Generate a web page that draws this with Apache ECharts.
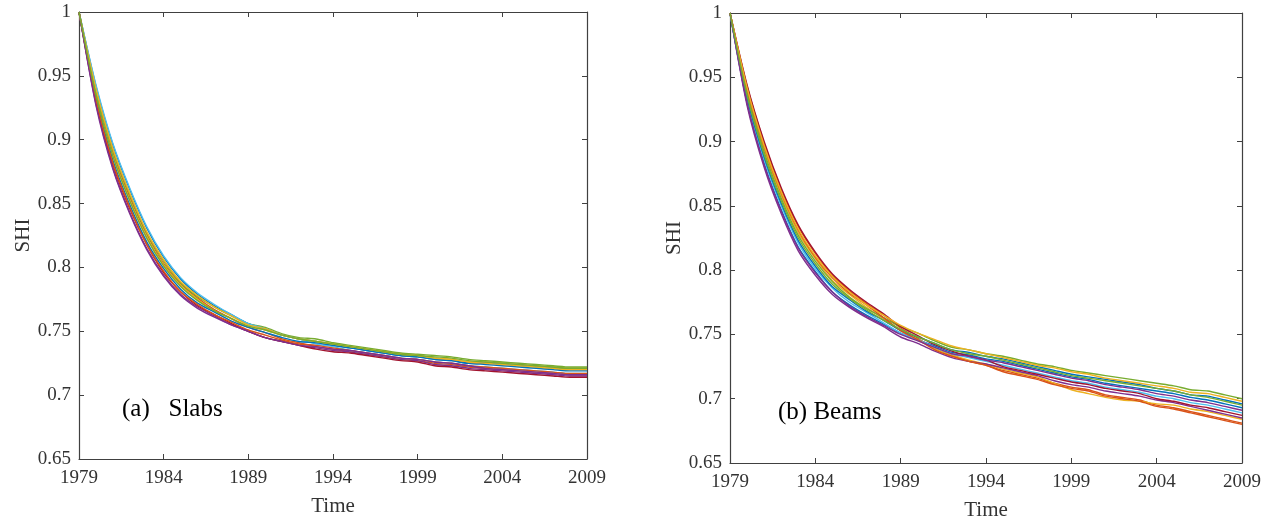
<!DOCTYPE html>
<html>
<head>
<meta charset="utf-8">
<script src="https://cdn.jsdelivr.net/npm/echarts@6/dist/echarts.min.js"></script>
<style>
html,body{margin:0;padding:0;background:#fff;}
#chart{width:1270px;height:521px;}
</style>
</head>
<body>
<div id="chart"></div>
<script>
const years = [1979,1980,1981,1982,1983,1984,1985,1986,1987,1988,1989,1990,1991,1992,1993,1994,1995,1996,1997,1998,1999,2000,2001,2002,2003,2004,2005,2006,2007,2008,2009];
const yTicks = {min: 0.65, max: 1, step: 0.05};
const panelTitles = ['(a)   Slabs', '(b) Beams'];
const xName = 'Time';
const yName = 'SHI';
const lineColors = ['#0072BD','#D95319','#EDB120','#7E2F8E','#77AC30','#4DBEEE','#A2142F'];

// (a) Slabs
const slabs1  = [1.000,.942,.896,.861,.831,.808,.791,.779,.770,.763,.756,.752,.747,.744,.742,.739,.737,.735,.733,.731,.730,.728,.727,.725,.724,.723,.722,.721,.720,.719,.719];
const slabs2  = [1.000,.937,.890,.855,.826,.803,.787,.776,.767,.760,.753,.749,.744,.741,.738,.736,.734,.732,.730,.728,.727,.725,.724,.722,.721,.720,.719,.718,.717,.716,.716];
const slabs3  = [1.000,.936,.888,.853,.824,.802,.786,.775,.766,.760,.754,.751,.747,.744,.742,.740,.738,.736,.734,.732,.731,.729,.728,.726,.726,.725,.724,.723,.722,.721,.721];
const slabs4  = [1.000,.928,.878,.843,.815,.794,.779,.769,.762,.755,.750,.745,.742,.739,.737,.735,.734,.732,.730,.728,.727,.724,.723,.721,.720,.719,.718,.717,.716,.715,.715];
const slabs5  = [1.000,.939,.892,.857,.827,.805,.788,.777,.769,.762,.756,.753,.748,.745,.744,.741,.739,.737,.735,.733,.732,.731,.730,.728,.727,.726,.725,.724,.723,.722,.722];
const slabs6  = [1.000,.943,.897,.862,.832,.809,.792,.780,.771,.763,.756,.752,.747,.744,.740,.738,.735,.733,.731,.729,.728,.726,.725,.723,.722,.721,.720,.719,.718,.717,.717];
const slabs7  = [1.000,.930,.881,.846,.818,.796,.781,.770,.763,.756,.750,.745,.742,.739,.736,.734,.733,.731,.729,.727,.726,.723,.722,.720,.719,.718,.717,.716,.715,.714,.714];
const slabs8  = [1.000,.933,.884,.849,.820,.799,.783,.772,.765,.758,.753,.749,.745,.742,.741,.739,.737,.735,.733,.731,.730,.728,.727,.725,.725,.724,.723,.722,.721,.720,.720];
const slabs9  = [1.000,.931,.882,.847,.818,.797,.781,.771,.763,.757,.751,.747,.743,.740,.739,.737,.735,.733,.731,.729,.728,.726,.725,.723,.722,.721,.720,.719,.718,.717,.717];
const slabs10 = [1.000,.940,.893,.858,.828,.806,.789,.778,.769,.762,.755,.752,.747,.744,.742,.740,.738,.736,.734,.732,.731,.729,.728,.726,.725,.724,.723,.722,.721,.720,.720];
const slabs11 = [1.000,.927,.877,.842,.814,.793,.778,.768,.761,.755,.750,.745,.742,.739,.738,.736,.735,.733,.731,.729,.728,.726,.725,.723,.721,.720,.719,.718,.717,.716,.716];
const slabs12 = [1.000,.935,.887,.852,.823,.801,.785,.774,.766,.760,.754,.751,.747,.744,.742,.740,.738,.736,.734,.732,.731,.730,.729,.727,.726,.725,.724,.723,.722,.721,.721];

// (b) Beams
const beams1  = [1.000,.930,.883,.847,.818,.799,.783,.773,.765,.758,.751,.746,.741,.736,.734,.731,.729,.726,.723,.720,.717,.715,.712,.710,.708,.706,.704,.701,.699,.696,.693];
const beams2  = [1.000,.943,.899,.863,.834,.813,.796,.784,.774,.765,.755,.747,.739,.734,.729,.726,.722,.719,.716,.712,.709,.707,.703,.701,.699,.695,.693,.690,.687,.684,.681];
const beams3  = [1.000,.939,.894,.858,.829,.809,.792,.781,.771,.762,.753,.746,.739,.734,.730,.727,.723,.720,.717,.712,.707,.704,.701,.699,.698,.696,.695,.692,.690,.687,.684];
const beams4  = [1.000,.928,.880,.844,.815,.796,.781,.771,.763,.756,.748,.743,.737,.732,.729,.727,.724,.721,.718,.714,.711,.709,.706,.704,.702,.699,.697,.694,.691,.688,.685];
const beams5  = [1.000,.938,.892,.856,.827,.807,.791,.779,.770,.763,.756,.751,.745,.740,.738,.735,.733,.730,.727,.725,.722,.720,.718,.716,.714,.712,.710,.707,.706,.703,.700];
const beams6  = [1.000,.933,.886,.850,.821,.801,.786,.775,.767,.759,.751,.746,.740,.735,.732,.729,.726,.723,.720,.717,.714,.712,.709,.707,.705,.702,.700,.697,.695,.692,.689];
const beams7  = [1.000,.944,.900,.864,.835,.814,.797,.785,.775,.766,.756,.749,.742,.737,.733,.730,.725,.722,.719,.716,.713,.711,.708,.706,.704,.700,.698,.695,.693,.690,.687];
const beams8  = [1.000,.934,.888,.852,.823,.803,.787,.777,.768,.761,.753,.748,.743,.738,.736,.733,.731,.728,.725,.722,.719,.717,.715,.713,.711,.708,.706,.703,.702,.699,.696];
const beams9  = [1.000,.941,.896,.860,.831,.810,.794,.782,.773,.763,.753,.746,.738,.733,.729,.726,.721,.718,.715,.711,.708,.706,.702,.700,.698,.694,.692,.689,.686,.683,.680];
const beams10 = [1.000,.942,.897,.861,.832,.811,.795,.783,.773,.765,.757,.751,.746,.741,.738,.735,.732,.729,.726,.724,.721,.719,.716,.714,.712,.710,.708,.705,.704,.701,.698];
const beams11 = [1.000,.930,.882,.846,.817,.798,.783,.772,.764,.757,.750,.745,.740,.735,.733,.730,.728,.725,.722,.719,.716,.714,.711,.709,.707,.704,.702,.699,.697,.694,.691];
const beams12 = [1.000,.936,.890,.854,.825,.805,.789,.778,.769,.761,.754,.748,.743,.738,.735,.733,.730,.727,.724,.721,.718,.716,.714,.712,.710,.708,.706,.703,.701,.698,.695];

const slabsSeries = [slabs1,slabs2,slabs3,slabs4,slabs5,slabs6,slabs7,slabs8,slabs9,slabs10,slabs11,slabs12];
const beamsSeries = [beams1,beams2,beams3,beams4,beams5,beams6,beams7,beams8,beams9,beams10,beams11,beams12];

const FONT = "'Liberation Serif','Times New Roman',serif";
const AX = '#404040';
const TXT = '#333333';

function xAxes(gridIndex, nameGap) {
  return [
    {
      type: 'category', gridIndex, data: years, boundaryGap: false, position: 'bottom',
      name: xName, nameLocation: 'middle', nameGap: nameGap,
      nameTextStyle: {fontFamily: FONT, fontSize: 21, color: TXT},
      axisLine: {lineStyle: {color: AX, width: 1.2}},
      axisTick: {inside: true, length: 5, interval: 4, lineStyle: {color: AX}},
      axisLabel: {interval: 4, margin: 10, fontFamily: FONT, fontSize: 19, color: TXT},
      splitLine: {show: false}
    },
    {
      type: 'category', gridIndex, data: years, boundaryGap: false, position: 'top',
      axisLine: {lineStyle: {color: AX, width: 1.2}},
      axisTick: {inside: true, length: 5, interval: 4, lineStyle: {color: AX}},
      axisLabel: {show: false},
      splitLine: {show: false}
    }
  ];
}
function yAxes(gridIndex, nameGap) {
  return [
    {
      type: 'value', gridIndex, min: yTicks.min, max: yTicks.max, interval: yTicks.step, position: 'left',
      name: yName, nameLocation: 'middle', nameGap: nameGap,
      nameTextStyle: {fontFamily: FONT, fontSize: 21, color: TXT},
      axisLine: {show: true, lineStyle: {color: AX, width: 1.2}},
      axisTick: {show: true, inside: true, length: 5, lineStyle: {color: AX}},
      axisLabel: {margin: 8, fontFamily: FONT, fontSize: 19, color: TXT},
      splitLine: {show: false}
    },
    {
      type: 'value', gridIndex, min: yTicks.min, max: yTicks.max, interval: yTicks.step, position: 'right',
      axisLine: {show: true, lineStyle: {color: AX, width: 1.2}},
      axisTick: {show: true, inside: true, length: 5, lineStyle: {color: AX}},
      axisLabel: {show: false},
      splitLine: {show: false}
    }
  ];
}

const series = [];
slabsSeries.forEach((arr, i) => {
  series.push({type: 'line', xAxisIndex: 0, yAxisIndex: 0, data: arr, showSymbol: false, symbol: 'none',
    smooth: 0.25, lineStyle: {width: 1.4, color: lineColors[i % 7]}, silent: true});
});
beamsSeries.forEach((arr, i) => {
  series.push({type: 'line', xAxisIndex: 2, yAxisIndex: 2, data: arr, showSymbol: false, symbol: 'none',
    smooth: 0.25, lineStyle: {width: 1.4, color: lineColors[i % 7]}, silent: true});
});

const chart = echarts.init(document.getElementById('chart'), null, {renderer: 'canvas'});
chart.setOption({
  animation: false,
  backgroundColor: '#fff',
  grid: [
    {left: 79, top: 12, width: 508, height: 447, containLabel: false, outerBoundsMode: 'none'},
    {left: 730, top: 13, width: 512, height: 450, containLabel: false, outerBoundsMode: 'none'}
  ],
  xAxis: [...xAxes(0, 37), ...xAxes(1, 37)],
  yAxis: [...yAxes(0, 41), ...yAxes(1, 45)],
  series: series,
  graphic: [
    {type: 'text', left: 122, top: 397, style: {text: panelTitles[0], font: "25px " + FONT, fill: '#000'}},
    {type: 'text', left: 778, top: 400, style: {text: panelTitles[1], font: "25px " + FONT, fill: '#000'}}
  ]
});
</script>
</body>
</html>
